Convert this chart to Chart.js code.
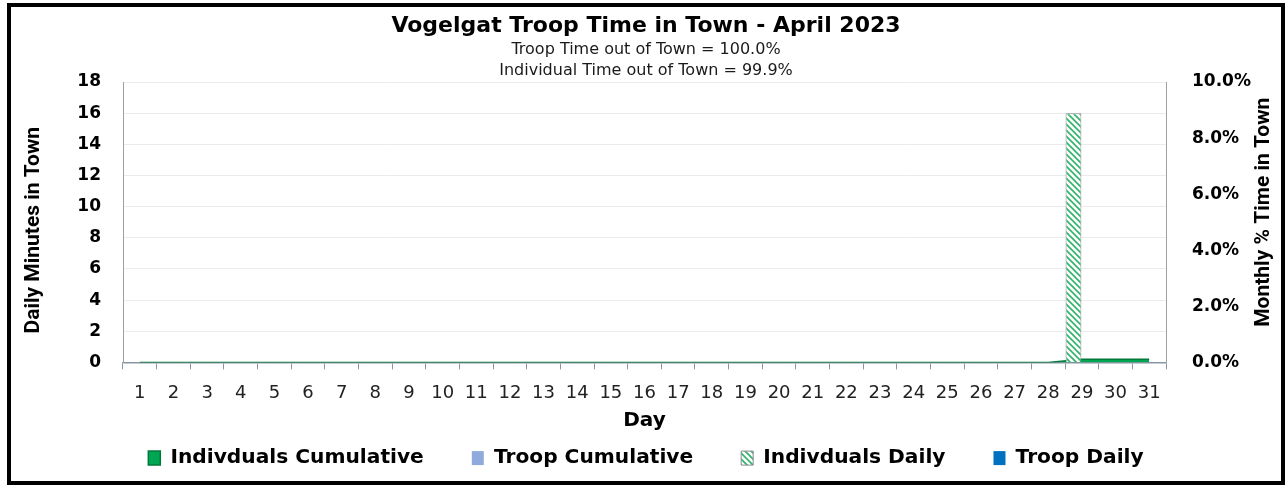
<!DOCTYPE html>
<html>
<head>
<meta charset="utf-8">
<script src="https://cdn.jsdelivr.net/npm/chart.js@4.4.0/dist/chart.umd.min.js"></script>
<style>
  body { margin: 0; background: #fff; }
  #wrap { position: relative; width: 1286px; height: 486px; }
  #graph { position: absolute; left: 0; top: 0; }
  #frame { position: absolute; left: 7px; top: 3px; width: 1278px; height: 482px;
           border: 4px solid #000; box-sizing: border-box; pointer-events: none; }
</style>
</head>
<body>
<div id="wrap">
  <canvas id="graph" width="1286" height="486"></canvas>
  <div id="frame"></div>
</div>
<script>
var days = [];
for (var d = 1; d <= 31; d++) days.push(String(d));

// minutos diarios en el pueblo
var indivDaily = [0,0,0,0,0,0,0,0,0,0,0,0,0,0,0,0,0,0,0,0,0,0,0,0,0,0,0,0,16,0,0];
var troopDaily = [0,0,0,0,0,0,0,0,0,0,0,0,0,0,0,0,0,0,0,0,0,0,0,0,0,0,0,0,0,0,0];
// porcentaje mensual acumulado
var indivCumul = [0,0,0,0,0,0,0,0,0,0,0,0,0,0,0,0,0,0,0,0,0,0,0,0,0,0,0,0,0.11,0.11,0.11];
var troopCumul = [0,0,0,0,0,0,0,0,0,0,0,0,0,0,0,0,0,0,0,0,0,0,0,0,0,0,0,0,0,0,0];

var leftTicks = [0,2,4,6,8,10,12,14,16,18];
var rightTicks = [0,2,4,6,8,10];

var narrow = "'Liberation Sans Narrow', 'Arial Narrow', Roboto, sans-serif";

function hatch() {
  var c = document.createElement("canvas");
  c.width = 6; c.height = 6;
  var g = c.getContext("2d");
  g.fillStyle = "#ffffff";
  g.fillRect(0, 0, 6, 6);
  g.strokeStyle = "#2fb46a";
  g.lineWidth = 1.6;
  g.beginPath();
  g.moveTo(-1, -1); g.lineTo(7, 7);
  g.moveTo(-4, 2); g.lineTo(4, 10);
  g.moveTo(2, -4); g.lineTo(10, 4);
  g.stroke();
  return g.createPattern(c, "repeat");
}

// leyenda: separacion horizontal grande pero poca altura
var legendFix = {
  id: "legendFix",
  beforeLayout: function (chart) {
    var lg = chart.legend;
    if (lg && !lg._patched) {
      var fit = lg.fit;
      lg.fit = function () {
        fit.call(this);
        this.height = 44;
        this.minSize = { width: this.width, height: 44 };
      };
      lg._patched = true;
    }
  },
  afterLayout: function (chart) {
    chart.legend.top -= 37;
  }
};

// titulos de los ejes, leidos de abajo hacia arriba
var axisTitles = {
  id: "axisTitles",
  afterDraw: function (chart) {
    var a = chart.chartArea;
    var c = chart.ctx;
    function vtext(txt, x, y) {
      c.save();
      c.translate(x, y);
      c.rotate(-Math.PI / 2);
      c.textAlign = "center";
      c.textBaseline = "middle";
      c.fillStyle = "#000";
      c.font = "bold 21px " + narrow;
      c.fillText(txt, 0, 0);
      c.restore();
    }
    var mid = (a.top + a.bottom) / 2;
    vtext("Daily Minutes in Town", chart.scales.y.left + 20, mid + 8);
    vtext("Monthly % Time in Town", chart.scales.y1.right - 14, mid - 10);
  }
};

var ctx = document.getElementById("graph").getContext("2d");

var chart = new Chart(ctx, {
  type: "bar",
  data: {
    labels: days,
    datasets: [
      {
        type: "line",
        label: "Indivduals Cumulative",
        data: indivCumul,
        yAxisID: "y1",
        fill: "origin",
        backgroundColor: "#00a651",
        borderColor: "#007a3b",
        borderWidth: 1.5,
        pointRadius: 0,
        order: 2
      },
      {
        type: "line",
        label: "Troop Cumulative",
        data: troopCumul,
        yAxisID: "y1",
        fill: "origin",
        backgroundColor: "#8faadc",
        borderColor: "#4472c4",
        borderWidth: 0,
        pointRadius: 0,
        order: 2
      },
      {
        label: "Indivduals Daily",
        data: indivDaily,
        yAxisID: "y",
        backgroundColor: hatch(),
        borderColor: "#8c8c8c",
        borderWidth: 1,
        categoryPercentage: 1,
        barPercentage: 0.94,
        order: 1
      },
      {
        label: "Troop Daily",
        data: troopDaily,
        yAxisID: "y",
        backgroundColor: "#0070c0",
        borderColor: "#2f5597",
        borderWidth: 0,
        categoryPercentage: 1,
        barPercentage: 0.94,
        order: 1
      }
    ]
  },
  options: {
    responsive: false,
    animation: false,
    layout: { padding: { left: 14, right: 8, top: 10, bottom: 5 } },
    plugins: {
      tooltip: { enabled: false },
      title: {
        display: true,
        text: "Vogelgat Troop Time in Town - April 2023",
        color: "#000",
        font: { family: "'DejaVu Sans'", size: 22, weight: "bold" },
        padding: { top: 3, bottom: 0 }
      },
      subtitle: {
        display: true,
        text: ["Troop Time out of Town = 100.0%", "Individual Time out of Town = 99.9%"],
        color: "#1a1a1a",
        font: { family: "'DejaVu Sans'", size: 16, lineHeight: 1.3 },
        padding: { top: 0, bottom: 1 }
      },
      legend: {
        position: "bottom",
        labels: {
          sort: function (a, b) { return a.datasetIndex - b.datasetIndex; },
          boxWidth: 12,
          boxHeight: 14,
          padding: 48,
          color: "#000",
          font: { family: "'DejaVu Sans'", size: 20.2, weight: "bold" }
        }
      }
    },
    scales: {
      x: {
        offset: true,
        grid: { display: true, offset: true, drawOnChartArea: false, tickLength: 7, color: "#8a96a3" },
        border: { color: "#8a96a3", width: 1.5 },
        ticks: { color: "#222", font: { family: "'DejaVu Sans'", size: 18 }, padding: 13, maxRotation: 0, autoSkip: false },
        title: { display: true, text: "Day", color: "#000", font: { family: "'DejaVu Sans'", size: 20, weight: "bold", lineHeight: 0.4 }, padding: { top: 0, bottom: 12 } }
      },
      y: {
        position: "left",
        min: 0,
        max: 18,
        afterBuildTicks: function (s) { s.ticks = leftTicks.map(function (v) { return { value: v }; }); },
        afterFit: function (s) { s.width = 109; },
        grid: { color: "#ebebeb", drawTicks: false },
        border: { color: "#a0a0a0" },
        ticks: { color: "#000", font: { family: "'DejaVu Sans'", size: 17, weight: "bold" }, padding: 22 }
      },
      y1: {
        position: "right",
        min: 0,
        max: 10,
        afterBuildTicks: function (s) { s.ticks = rightTicks.map(function (v) { return { value: v }; }); },
        afterFit: function (s) { s.width = 112; },
        grid: { drawOnChartArea: false, drawTicks: false },
        border: { color: "#a0a0a0" },
        ticks: { color: "#000", font: { family: "'DejaVu Sans'", size: 17, weight: "bold" }, padding: 26,
                 callback: function (v) { return v.toFixed(1) + "%"; } }
      }
    }
  },
  plugins: [legendFix, axisTitles]
});
</script>
</body>
</html>
